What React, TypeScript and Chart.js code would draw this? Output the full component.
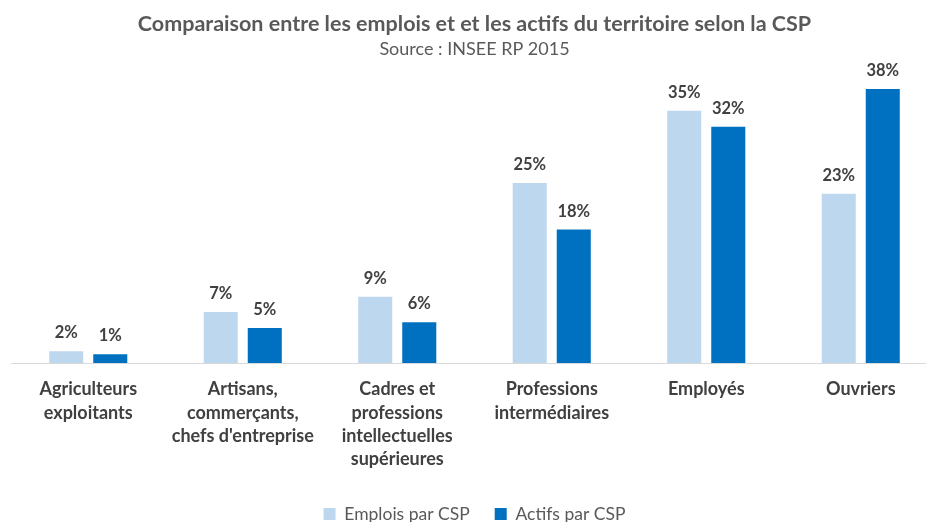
import React, { useEffect, useRef } from "react";
import { Chart, registerables } from "chart.js";

Chart.register(...registerables);

const titleText = "Comparaison entre les emplois et et les actifs du territoire selon la CSP";
const subtitleText = "Source : INSEE RP 2015";

const categories: string[][] = [
  ["Agriculteurs", "exploitants"],
  ["Artisans,", "commerçants,", "chefs d'entreprise"],
  ["Cadres et", "professions", "intellectuelles", "supérieures"],
  ["Professions", "intermédiaires"],
  ["Employés"],
  ["Ouvriers"],
];

const seriesNames = ["Emplois par CSP", "Actifs par CSP"];
const emploisValues = [1.6, 7.0, 9.1, 24.7, 34.6, 23.2];
const actifsValues = [1.2, 4.8, 5.6, 18.3, 32.4, 37.6];
const seriesColors = ["#BDD7EE", "#0070C0"];

const FONT = "Lato, 'Open Sans', sans-serif";

const valueLabelPlugin = {
  id: "valueLabels",
  afterDatasetsDraw(chart: any) {
    const ctx = chart.ctx;
    ctx.save();
    ctx.font = `bold 16.5px ${FONT}`;
    ctx.fillStyle = "#404040";
    ctx.textAlign = "center";
    ctx.textBaseline = "alphabetic";
    chart.data.datasets.forEach((ds: any, di: number) => {
      const meta = chart.getDatasetMeta(di);
      meta.data.forEach((el: any, i: number) => {
        const v = ds.data[i] as number;
        ctx.fillText(`${Math.round(v)}%`, el.x, el.y - 13);
      });
    });
    ctx.restore();
  },
};

export default function App() {
  const ref = useRef<HTMLCanvasElement | null>(null);

  useEffect(() => {
    if (!ref.current) return;
    Chart.defaults.font.family = FONT;
    const chart = new Chart(ref.current, {
      type: "bar",
      data: {
        labels: categories,
        datasets: [
          {
            label: seriesNames[0],
            data: emploisValues,
            backgroundColor: seriesColors[0],
            borderWidth: 0,
            categoryPercentage: 0.57,
            barPercentage: 0.773,
          },
          {
            label: seriesNames[1],
            data: actifsValues,
            backgroundColor: seriesColors[1],
            borderWidth: 0,
            categoryPercentage: 0.57,
            barPercentage: 0.773,
          },
        ],
      },
      options: {
        responsive: false,
        animation: false,
        devicePixelRatio: 1,
        layout: { padding: { left: 11, right: 6, top: 0, bottom: -10.75 } },
        plugins: {
          title: {
            display: true,
            text: titleText,
            color: "#595959",
            font: { size: 21.5, weight: "bold", family: FONT },
            padding: { top: 11.1, bottom: 1.3 },
          },
          subtitle: {
            display: true,
            text: subtitleText,
            color: "#595959",
            font: { size: 18, weight: "normal", family: FONT },
            padding: { top: 0, bottom: 11.6 },
          },
          legend: {
            display: true,
            position: "bottom",
            labels: {
              boxWidth: 12,
              boxHeight: 12,
              padding: 25,
              color: "#595959",
              font: { size: 17.5, family: FONT },
            },
          },
          tooltip: { enabled: false },
        },
        scales: {
          x: {
            grid: { display: false, drawTicks: false },
            border: { display: true, color: "#D9D9D9", width: 1 },
            ticks: {
              color: "#404040",
              padding: 15,
              maxRotation: 0,
              autoSkip: false,
              font: { size: 18, weight: "bold", family: FONT, lineHeight: 1.29 },
            },
            afterFit(scale: any) {
              scale.height = 117.25;
            },
          },
          y: {
            display: false,
            min: 0,
            max: 40,
          },
        },
      },
      plugins: [valueLabelPlugin],
    } as any);
    return () => chart.destroy();
  }, []);

  return (
    <div
      style={{
        position: "fixed",
        left: 0,
        top: 0,
        width: 926,
        height: 522,
        overflow: "hidden",
        background: "#ffffff",
      }}
    >
      <canvas ref={ref} width={944} height={522} style={{ width: 944, height: 522, display: "block" }} />
    </div>
  );
}
